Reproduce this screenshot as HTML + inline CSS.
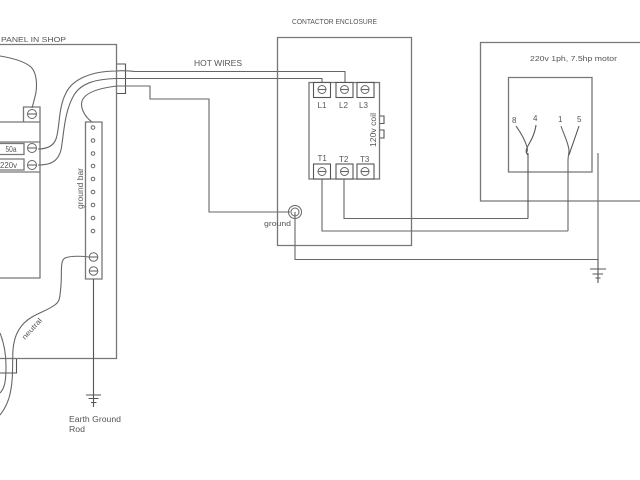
<!DOCTYPE html>
<html><head><meta charset="utf-8">
<style>
html,body{margin:0;padding:0;background:#fff;width:640px;height:480px;overflow:hidden}
svg{display:block;filter:blur(0.35px)}
text{font-family:"Liberation Sans",sans-serif;fill:#555}
.b{fill:none;stroke:#777;stroke-width:1.3}
.d{fill:none;stroke:#555;stroke-width:1.1}
.w{fill:none;stroke:#666;stroke-width:1.1}
.c{fill:#fff;stroke:#666;stroke-width:1}
</style></head><body>
<svg width="640" height="480" viewBox="0 0 640 480" xmlns="http://www.w3.org/2000/svg">
<rect width="640" height="480" fill="#fff"/>
<!-- panel -->
<path class="b" d="M0 44.500H116.500V358.500H0"/>
<text x="1" y="42" font-size="7.600" textLength="65" lengthAdjust="spacingAndGlyphs">PANEL IN SHOP</text>
<path class="d" d="M117 64H125.500V93.500H117"/>
<!-- breaker -->
<path class="b" d="M23.500 121.500V107H40V278H0M0 122H40M0 142H40M0 172H40"/>
<path class="b" d="M0 143.500H24V154.500H0M0 159H24V170H0"/>
<text x="5.500" y="152" font-size="8" textLength="11" lengthAdjust="spacingAndGlyphs">50a</text>
<text x="0" y="168" font-size="8" textLength="17" lengthAdjust="spacingAndGlyphs">220v</text>
<circle class="c" cx="32" cy="114" r="4.500"/><path class="w" d="M27.500 114H36.500"/>
<circle class="c" cx="32" cy="148" r="4.500"/><path class="w" d="M27.500 148H36.500"/>
<circle class="c" cx="32" cy="165" r="4.500"/><path class="w" d="M27.500 165H36.500"/>
<!-- curved wires -->
<path class="w" d="M0 56C12 58 24 61 31 67C37 73 37 85 36 92C35 98 33 104 32 108"/>
<path class="w" d="M38 149C46 149 53 147 56 139C60 128 58 108 66 93C72 80 90 71 117 71C122 70 128 71 135 71.500H345V82.500"/>
<path class="w" d="M38 165C50 165 58 162 61 150C64 134 64 112 74 95C82 82 98 79 117 78.500H322V82.500"/>
<path class="w" d="M92 122C85 117 80 108 82 101C85 92 100 88 117 86H150V99H209V212H290"/>
<!-- ground bar -->
<path class="b" d="M85.500 122H102V279H85.500Z"/>
<g fill="#fff" stroke="#666" stroke-width="1">
<circle cx="93" cy="127.500" r="1.800"/><circle cx="93" cy="140.500" r="1.800"/><circle cx="93" cy="153.500" r="1.800"/><circle cx="93" cy="166" r="1.800"/><circle cx="93" cy="179" r="1.800"/><circle cx="93" cy="192" r="1.800"/><circle cx="93" cy="205" r="1.800"/><circle cx="93" cy="218" r="1.800"/><circle cx="93" cy="231" r="1.800"/>
</g>
<circle class="c" cx="93.500" cy="257" r="4.300"/><path class="w" d="M89 257H98"/>
<circle class="c" cx="93.500" cy="271" r="4.300"/><path class="w" d="M89 271H98"/>
<text transform="translate(83,209) rotate(-90)" font-size="8" textLength="41" lengthAdjust="spacingAndGlyphs">ground bar</text>
<path class="d" d="M93.500 279V395"/>
<path class="d" d="M86 395H101M88.500 398.500H98.500M91 402.500H96.500M93.500 395V407"/>
<text x="69" y="422" font-size="7.800" textLength="52" lengthAdjust="spacingAndGlyphs">Earth Ground</text>
<text x="69" y="432" font-size="7.800" textLength="16" lengthAdjust="spacingAndGlyphs">Rod</text>
<!-- neutral -->
<path class="w" d="M89 257C80 256 70 256 65 258C60 261 62 270 61 285C60 296 60 301 56 304C49 310 40 312 32 317C20 324 14 335 13 350C12 365 14 380 9 398C6 407 3 411 0 415"/>
<path class="w" d="M0 333C4 343 6 355 6 366C6 380 5 388 0 393"/>
<text transform="translate(25,340) rotate(-48)" font-size="7.200" textLength="26" lengthAdjust="spacingAndGlyphs">neutral</text>
<path class="d" d="M0 373H16.500V359"/>
<!-- contactor enclosure -->
<path class="b" d="M277.500 37.500H411.500V245.500H277.500Z"/>
<text x="292" y="24" font-size="7.400" textLength="85" lengthAdjust="spacingAndGlyphs">CONTACTOR ENCLOSURE</text>
<text x="194" y="66" font-size="8" textLength="48" lengthAdjust="spacingAndGlyphs">HOT WIRES</text>
<!-- contactor -->
<path class="b" d="M309 82.500H379.500V179H309Z"/>
<g fill="#fff" stroke="#555" stroke-width="1.100">
<rect x="313.500" y="82.500" width="17" height="15"/><rect x="336" y="82.500" width="17" height="15"/><rect x="357" y="82.500" width="17" height="15"/>
<rect x="313.500" y="164" width="17" height="15"/><rect x="336" y="164" width="17" height="15"/><rect x="357" y="164" width="17" height="15"/>
</g>
<circle class="c" cx="322" cy="89.500" r="4"/><path class="w" d="M318 89.500H326"/>
<circle class="c" cx="344.500" cy="89.500" r="4"/><path class="w" d="M340.500 89.500H348.500"/>
<circle class="c" cx="365" cy="89.500" r="4"/><path class="w" d="M361 89.500H369"/>
<circle class="c" cx="322" cy="171.500" r="4"/><path class="w" d="M318 171.500H326"/>
<circle class="c" cx="344.500" cy="171.500" r="4"/><path class="w" d="M340.500 171.500H348.500"/>
<circle class="c" cx="365" cy="171.500" r="4"/><path class="w" d="M361 171.500H369"/>
<g font-size="8">
<text x="317.500" y="108">L1</text><text x="339" y="108">L2</text><text x="359" y="108">L3</text>
<text x="317.500" y="161">T1</text><text x="339" y="162">T2</text><text x="360" y="162">T3</text>
</g>
<text transform="translate(376,147) rotate(-90)" font-size="8" textLength="34" lengthAdjust="spacingAndGlyphs">120v coil</text>
<path class="d" d="M380 116H384V123.500H380M380 130H384V138H380"/>
<!-- ground lug -->
<circle cx="295" cy="212" r="6.500" fill="none" stroke="#666" stroke-width="1"/>
<circle cx="295" cy="212" r="4" fill="none" stroke="#666" stroke-width="1"/>
<text x="264" y="226" font-size="7.600" textLength="27" lengthAdjust="spacingAndGlyphs">ground</text>
<!-- output wires -->
<path class="w" d="M344 179V218.500H528"/>
<path class="w" d="M322 179V231H568"/>
<path class="w" d="M295 212V259.500H598V153"/>
<path class="d" d="M590 269H606M592.500 274H603M595.500 278H600.500M598 259V283"/>
<!-- motor -->
<path class="b" d="M640 42.500H480.500V201H640"/>
<path class="b" d="M508.500 77.500H592V172H508.500Z"/>
<text x="530" y="61" font-size="7.600" textLength="87" lengthAdjust="spacingAndGlyphs">220v 1ph, 7.5hp motor</text>
<g font-size="8">
<text x="512" y="123">8</text><text x="533" y="121">4</text><text x="558" y="122">1</text><text x="577" y="122">5</text>
</g>
<path class="d" d="M528 153V218.500"/>
<path class="w" d="M568 160V231"/>
<path class="w" d="M516 126C521 133 525 140 527 147C528 151 527 152 526 153"/>
<path class="d" d="M536 125C535 133 532 139 529 144C526 149 525 152 528 155"/>
<path class="w" d="M561 126C564 135 568 142 569 150C569 154 568 157 568 160"/>
<path class="d" d="M579 126C576 135 572 146 569 155"/>
</svg>
</body></html>
